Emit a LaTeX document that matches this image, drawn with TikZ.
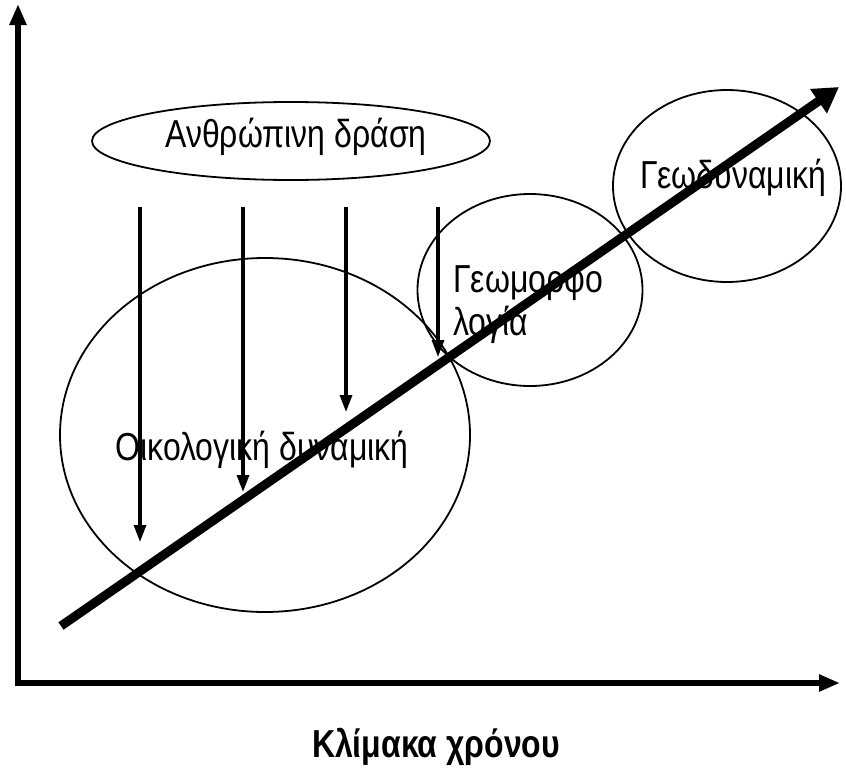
\documentclass[tikz,border=0pt]{standalone}
\usepackage{fontspec}
\setmainfont{Liberation Sans}[FakeStretch=0.82]
\usetikzlibrary{arrows.meta, shapes.geometric, positioning}

\begin{document}
\begin{tikzpicture}[x=1pt, y=-1pt,
    oval/.style={draw, ellipse, line width=1.8pt, inner sep=0pt},
    lbl/.style={inner sep=0pt, font=\fontsize{39}{44}\selectfont},
    axis/.style={line width=6pt, -{Triangle[length=21pt, width=16pt]}},
    push/.style={line width=3.2pt, -{Triangle[length=17pt, width=12pt]}}]
  \useasboundingbox (0,0) rectangle (846,779);
  \coordinate (origin) at (18,686);
  \coordinate (ytop) at (18,4);
  \coordinate (xstart) at (15,683);
  \coordinate (xend) at (840,683);
  \draw[axis] (origin) -- (ytop);
  \draw[axis] (xstart) -- (xend);
  \node[oval, minimum width=398pt, minimum height=78pt] (act) at (291,141) {};
  \node[oval, minimum width=410pt, minimum height=354pt] (eco) at (265,435) {};
  \node[oval, minimum width=225pt, minimum height=192pt] (geomorph) at (530,290) {};
  \node[oval, minimum width=228pt, minimum height=192pt] (geodyn) at (727,186) {};
  \node[lbl, anchor=base] (acttext) at (296,147) {Ανθρώπινη δράση};
  \node[lbl, anchor=base] (ecotext) at (262,460) {Οικολογική δυναμική};
  \node[lbl, anchor=base west] (geotext) at (453,292) {Γεωμορφο};
  \node[lbl, anchor=base west] (geotextb) at (453,335) {λογία};
  \node[lbl, anchor=base] (dyntext) at (733,188) {Γεωδυναμική};
  \node[lbl, anchor=base, font=\fontsize{39}{44}\selectfont\bfseries] (xlabel) at (436,757) {Κλίμακα χρόνου};
  \foreach \x/\y [count=\i] in {140/542, 243/492, 346/412, 438/357} {
    \coordinate (top\i) at (\x,207);
    \coordinate (tip\i) at (\x,\y);
    \draw[push] (top\i) -- (tip\i);
  }
  \coordinate (tstart) at (61,626);
  \coordinate (tend) at (839,87);
  \draw[line width=9pt, -{Triangle[length=25pt, width=28pt]}] (tstart) -- (tend);
\end{tikzpicture}
\end{document}
